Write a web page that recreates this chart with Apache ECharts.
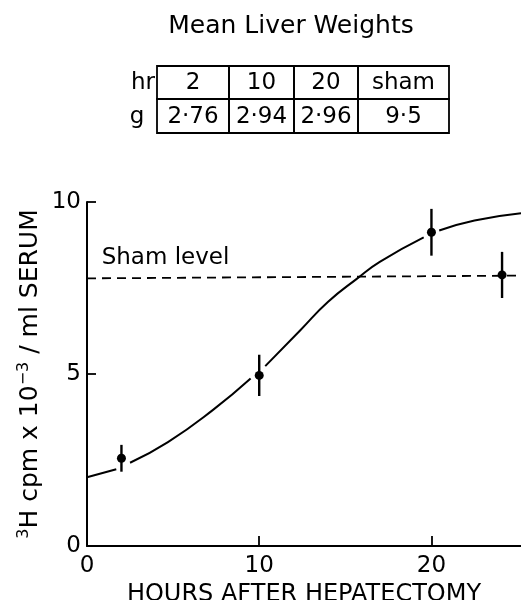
<!DOCTYPE html>
<html>
<head>
<meta charset="utf-8">
<script src="https://cdn.jsdelivr.net/npm/echarts@6/dist/echarts.min.js"></script>
<style>
  html, body { margin: 0; padding: 0; background: #fff; }
  #chart { width: 521px; height: 600px; }
</style>
</head>
<body>
<div id="chart"></div>
<script>
// table data (mean liver weights)
var tableHours = ['2', '10', '20', 'sham'];
var tableWeights = ['2·76', '2·94', '2·96', '9·5'];

// measured points: hours, mean, error (+/-)
var pointHours = [2, 10, 20, 24.1];
var pointMeans = [2.55, 4.96, 9.12, 7.88];
var pointErrs = [0.39, 0.6, 0.68, 0.67];

// fitted curve ('-' = gap at a data point)
var curveX = [0, 1.7, 2.1, 2.5, 4.7, 7.3, 9.5, 10, 10.35, 12.4, 14.0, 15.7, 17.0, 19.55, 20, 20.45, 22.5, 25.2];
var curveY = [2.0, 2.23, '-', 2.42, 3.02, 3.95, 4.87, '-', 5.23, 6.28, 7.1, 7.78, 8.26, 8.97, '-', 9.17, 9.46, 9.67];

// sham level dashed line
var shamX = [0, 25.2];
var shamY = [7.78, 7.86];

var FONT = 'DejaVu Sans';
var myChart = echarts.init(document.getElementById('chart'));

// table layout
var colEdges = [157, 229, 294, 358, 449];
var rowEdges = [66, 99, 133];
var tableGraphic = [];
for (var r = 0; r < 2; r++) {
    var cells = r === 0 ? tableHours : tableWeights;
    for (var c = 0; c < cells.length; c++) {
        tableGraphic.push({
            type: 'rect',
            shape: { x: colEdges[c], y: rowEdges[r], width: colEdges[c + 1] - colEdges[c], height: rowEdges[r + 1] - rowEdges[r] },
            style: { fill: 'none', stroke: '#000', lineWidth: 1.8 }
        });
        tableGraphic.push({
            type: 'text',
            x: (colEdges[c] + colEdges[c + 1]) / 2,
            y: (rowEdges[r] + rowEdges[r + 1]) / 2 + 1,
            style: { text: cells[c], font: '23px "' + FONT + '"', fill: '#000', align: 'center', verticalAlign: 'middle' }
        });
    }
}
tableGraphic.push({
    type: 'text', x: 155, y: (rowEdges[0] + rowEdges[1]) / 2 + 1,
    style: { text: 'hr', font: '23px "' + FONT + '"', fill: '#000', align: 'right', verticalAlign: 'middle' }
});
tableGraphic.push({
    type: 'text', x: 137, y: (rowEdges[1] + rowEdges[2]) / 2 + 1,
    style: { text: 'g', font: '23px "' + FONT + '"', fill: '#000', align: 'center', verticalAlign: 'middle' }
});
tableGraphic.push({
    type: 'text', x: 291, y: 26,
    style: { text: 'Mean Liver Weights', font: '25px "' + FONT + '"', fill: '#000', align: 'center', verticalAlign: 'middle' }
});

var pointData = pointHours.map(function (h, i) { return [h, pointMeans[i], pointErrs[i]]; });
var curveData = curveX.map(function (x, i) { return [x, curveY[i]]; });
var shamData = shamX.map(function (x, i) { return [x, shamY[i]]; });

var option = {
    animation: false,
    backgroundColor: '#fff',
    textStyle: { fontFamily: FONT, color: '#000' },
    graphic: tableGraphic,
    grid: { left: 87, right: 0, top: 202, bottom: 54, containLabel: false, outerBoundsMode: 'none' },
    xAxis: {
        type: 'value',
        min: 0, max: 25.2, interval: 10,
        name: 'HOURS AFTER HEPATECTOMY',
        nameLocation: 'middle',
        nameGap: 37,
        nameMoveOverlap: false,
        nameTextStyle: { fontSize: 24, color: '#000', fontFamily: FONT },
        axisLine: { lineStyle: { color: '#000', width: 2 } },
        axisTick: { inside: true, length: 10, lineStyle: { color: '#000', width: 1.8 } },
        axisLabel: { fontSize: 23, color: '#000', margin: 9, showMaxLabel: false, fontFamily: FONT },
        splitLine: { show: false }
    },
    yAxis: {
        type: 'value',
        min: 0, max: 10, interval: 5,
        name: '{sup|3}H cpm x 10{sup|−3} / ml SERUM',
        nameLocation: 'middle',
        nameRotate: 90,
        nameGap: 43,
        nameMoveOverlap: false,
        nameTextStyle: {
            fontSize: 25, color: '#000', fontFamily: FONT,
            rich: {
                sup: { fontSize: 16, fontFamily: FONT, color: '#000', verticalAlign: 'top', padding: [0, 0, 12, 0] }
            }
        },
        axisLine: { lineStyle: { color: '#000', width: 2 } },
        axisTick: { inside: true, length: 9, lineStyle: { color: '#000', width: 1.8 } },
        axisLabel: { fontSize: 23, color: '#000', margin: 6, fontFamily: FONT },
        splitLine: { show: false }
    },
    series: [
        {
            name: 'curve',
            type: 'line',
            smooth: 0.5,
            showSymbol: false,
            connectNulls: false,
            lineStyle: { color: '#000', width: 2 },
            data: curveData,
            z: 2
        },
        {
            name: 'sham',
            type: 'line',
            showSymbol: false,
            lineStyle: { color: '#000', width: 1.8, type: [9, 6] },
            data: shamData,
            z: 2
        },
        {
            name: 'shamLabel',
            type: 'scatter',
            symbolSize: 0,
            itemStyle: { opacity: 1 },
            data: [[0.85, 8.37]],
            label: {
                show: true, position: 'right', distance: 0,
                formatter: 'Sham level', fontSize: 23, color: '#000', fontFamily: FONT
            }
        },
        {
            name: 'errorbars',
            type: 'custom',
            renderItem: function (params, api) {
                var x = api.value(0), y = api.value(1), e = api.value(2);
                var hi = api.coord([x, y + e]);
                var lo = api.coord([x, y - e]);
                return {
                    type: 'line',
                    shape: { x1: hi[0], y1: hi[1], x2: lo[0], y2: lo[1] },
                    style: { stroke: '#000', lineWidth: 2.4 }
                };
            },
            data: pointData,
            z: 3
        },
        {
            name: 'points',
            type: 'scatter',
            symbol: 'circle',
            symbolSize: 9,
            itemStyle: { color: '#000', opacity: 1 },
            data: pointData,
            z: 4
        }
    ]
};
myChart.setOption(option);
</script>
</body>
</html>
